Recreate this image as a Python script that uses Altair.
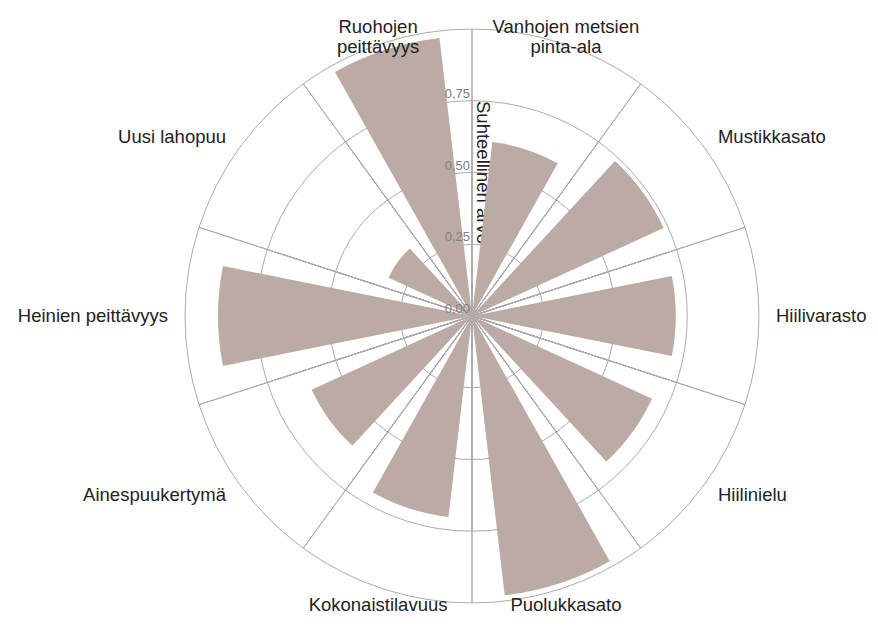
import math
import altair as alt
import pandas as pd

# ---- data ----
categories = [
    "Vanhojen metsien pinta-ala", "Mustikkasato", "Hiilivarasto", "Hiilinielu",
    "Puolukkasato", "Kokonaistilavuus", "Ainespuukertymä", "Heinien peittävyys",
    "Uusi lahopuu", "Ruohojen peittävyys",
]
labels = [
    "Vanhojen metsien\npinta-ala", "Mustikkasato", "Hiilivarasto", "Hiilinielu",
    "Puolukkasato", "Kokonaistilavuus", "Ainespuukertymä", "Heinien peittävyys",
    "Uusi lahopuu", "Ruohojen\npeittävyys",
]
values = [0.61, 0.735, 0.71, 0.69, 0.98, 0.705, 0.615, 0.885, 0.32, 0.975]
grid_values = [0.25, 0.5, 0.75, 1.0]
tick_values = [0.0, 0.25, 0.5, 0.75]
axis_title = "Suhteellinen arvo"

FONT = "Liberation Sans"
GRID = "#ababab"
BAR = "#bcaaa4"
R = 287  # outer radius of the polar plot, px

df = pd.DataFrame({"cat": categories, "label": labels, "v": values,
                   "idx": list(range(len(categories)))})
n = len(categories)

theta_scale = alt.Scale(domain=[0, n], range=[0, 2 * math.pi])
r_scale = alt.Scale(type="linear", domain=[0, 1], range=[0, R], zero=True, nice=False)

base = alt.Chart(df).transform_calculate(
    t0="datum.idx", t1="datum.idx + 1", tm="datum.idx + 0.5",
    deg=f"(datum.idx + 0.5) * 360 / {n}",
)

# grid: every sector outlined at each grid radius (radial lines + circle arcs)
grid_df = pd.DataFrame([(i, g) for i in range(n) for g in grid_values], columns=["idx", "g"])
grid = alt.Chart(grid_df).transform_calculate(
    t0="datum.idx", t1="datum.idx + 1"
).mark_arc(fillOpacity=0, stroke=GRID, strokeWidth=1).encode(
    theta=alt.Theta("t0:Q", scale=theta_scale, stack=False),
    theta2="t1:Q",
    radius=alt.Radius("g:Q", scale=r_scale),
)

title = alt.Chart(pd.DataFrame({"t": [axis_title], "r": [0.5]})).mark_text(
    angle=90, align="center", baseline="alphabetic", dy=-5,
    fontSize=18.5, font=FONT, color="#222222",
).encode(
    theta=alt.value(0),
    radius=alt.Radius("r:Q", scale=r_scale),
    text="t:N",
)

bars = base.mark_arc(padAngle=0.233, color=BAR).encode(
    theta=alt.Theta("t0:Q", scale=theta_scale, stack=False),
    theta2="t1:Q",
    radius=alt.Radius("v:Q", scale=r_scale),
    tooltip=["cat:N", "v:Q"],
)

ticklabels = alt.Chart(pd.DataFrame({"g": tick_values})).transform_calculate(
    txt="replace(format(datum.g, '.2f'), '.', ',')"
).mark_text(
    align="right", baseline="bottom", dx=-2, fontSize=13, font=FONT, color="#808080",
).encode(
    theta=alt.value(0),
    radius=alt.Radius("g:Q", scale=r_scale),
    text="txt:N",
)

def cat_labels(cond, align):
    return base.transform_filter(cond).mark_text(
        radius=R + 17, align=align, baseline="middle", fontSize=18.5, font=FONT,
        color="#222222", lineBreak="\n", lineHeight=20.5,
    ).encode(
        theta=alt.Theta("tm:Q", scale=theta_scale, stack=False),
        text="label:N",
    )

lab_left = cat_labels("datum.deg > 30 && datum.deg < 150", "left")
lab_right = cat_labels("datum.deg > 210 && datum.deg < 330", "right")
lab_center = cat_labels("(datum.deg <= 30 || datum.deg >= 330) || (datum.deg >= 150 && datum.deg <= 210)", "center")

chart = alt.layer(
    grid, title, bars, ticklabels, lab_left, lab_right, lab_center
).properties(
    width=2 * R, height=2 * R,
    autosize=alt.AutoSizeParams(type="none"),
    padding={"left": 177, "top": 21, "right": 111, "bottom": 11},
).configure_view(stroke="transparent")

chart.save("out.html", embed_options={"renderer": "svg", "actions": False})
